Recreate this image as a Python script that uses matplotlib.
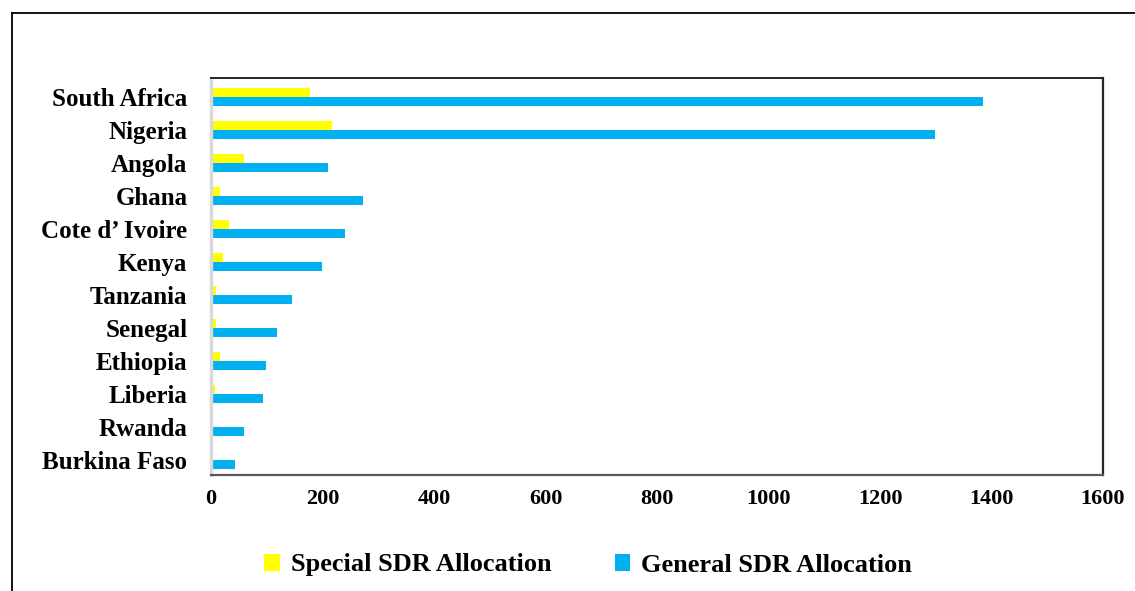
import matplotlib
matplotlib.use("Agg")
import matplotlib.pyplot as plt
from matplotlib.lines import Line2D
import numpy as np

# data, bottom to top as drawn
countries = ["Burkina Faso", "Rwanda", "Liberia", "Ethiopia", "Senegal", "Tanzania",
             "Kenya", "Cote d\u2019 Ivoire", "Ghana", "Angola", "Nigeria", "South Africa"]
special_sdr = [0, 0, 7, 16, 9, 9, 21, 32, 16, 59, 217, 178]
general_sdr = [43, 59, 93, 99, 118, 145, 199, 240, 273, 210, 1298, 1384]

plt.rcParams["font.family"] = ["Liberation Serif", "DejaVu Serif"]
plt.rcParams["font.weight"] = "bold"

fig = plt.figure(figsize=(11.35, 5.91), dpi=100)
ax = fig.add_axes([211 / 1135, 1 - 475 / 591, (1103 - 211) / 1135, (475 - 78) / 591])

y = np.arange(len(countries))
h = 0.27
ax.barh(y + h / 2, special_sdr, height=h, color="#FFFF00", label="Special SDR Allocation")
ax.barh(y - h / 2, general_sdr, height=h, color="#00B0F0", label="General SDR Allocation")

ax.set_xlim(0, 1600)
ax.set_ylim(-0.46, 11.58)
ax.set_xticks(range(0, 1601, 200))
ax.set_yticks(y)
ax.set_yticklabels(countries, fontsize=18, fontweight="bold")
ax.tick_params(axis="x", labelsize=16, length=0, pad=10)
ax.tick_params(axis="y", length=0, pad=17)
for lab in ax.get_xticklabels():
    lab.set_fontweight("bold")

ax.spines["left"].set_color("#d9d9d9")
ax.spines["left"].set_linewidth(2.4)
ax.spines["bottom"].set_color("#595959")
ax.spines["bottom"].set_linewidth(1.6)
ax.spines["top"].set_color("#262626")
ax.spines["top"].set_linewidth(1.4)
ax.spines["right"].set_color("#262626")
ax.spines["right"].set_linewidth(1.6)

fig.legend(loc="center", bbox_to_anchor=(588 / 1135, 1 - 565 / 591), ncol=2,
           frameon=False, handlelength=0.6, handleheight=0.6,
           handletextpad=0.4, columnspacing=2.4,
           prop={"size": 19, "weight": "bold"})

# outer frame (left and top edges visible)
fig.add_artist(Line2D([12 / 1135, 12 / 1135], [0, 1 - 13 / 591], color="black", lw=1.3))
fig.add_artist(Line2D([12 / 1135, 1], [1 - 13 / 591, 1 - 13 / 591], color="black", lw=1.3))

fig.savefig("out.png", dpi=100)
